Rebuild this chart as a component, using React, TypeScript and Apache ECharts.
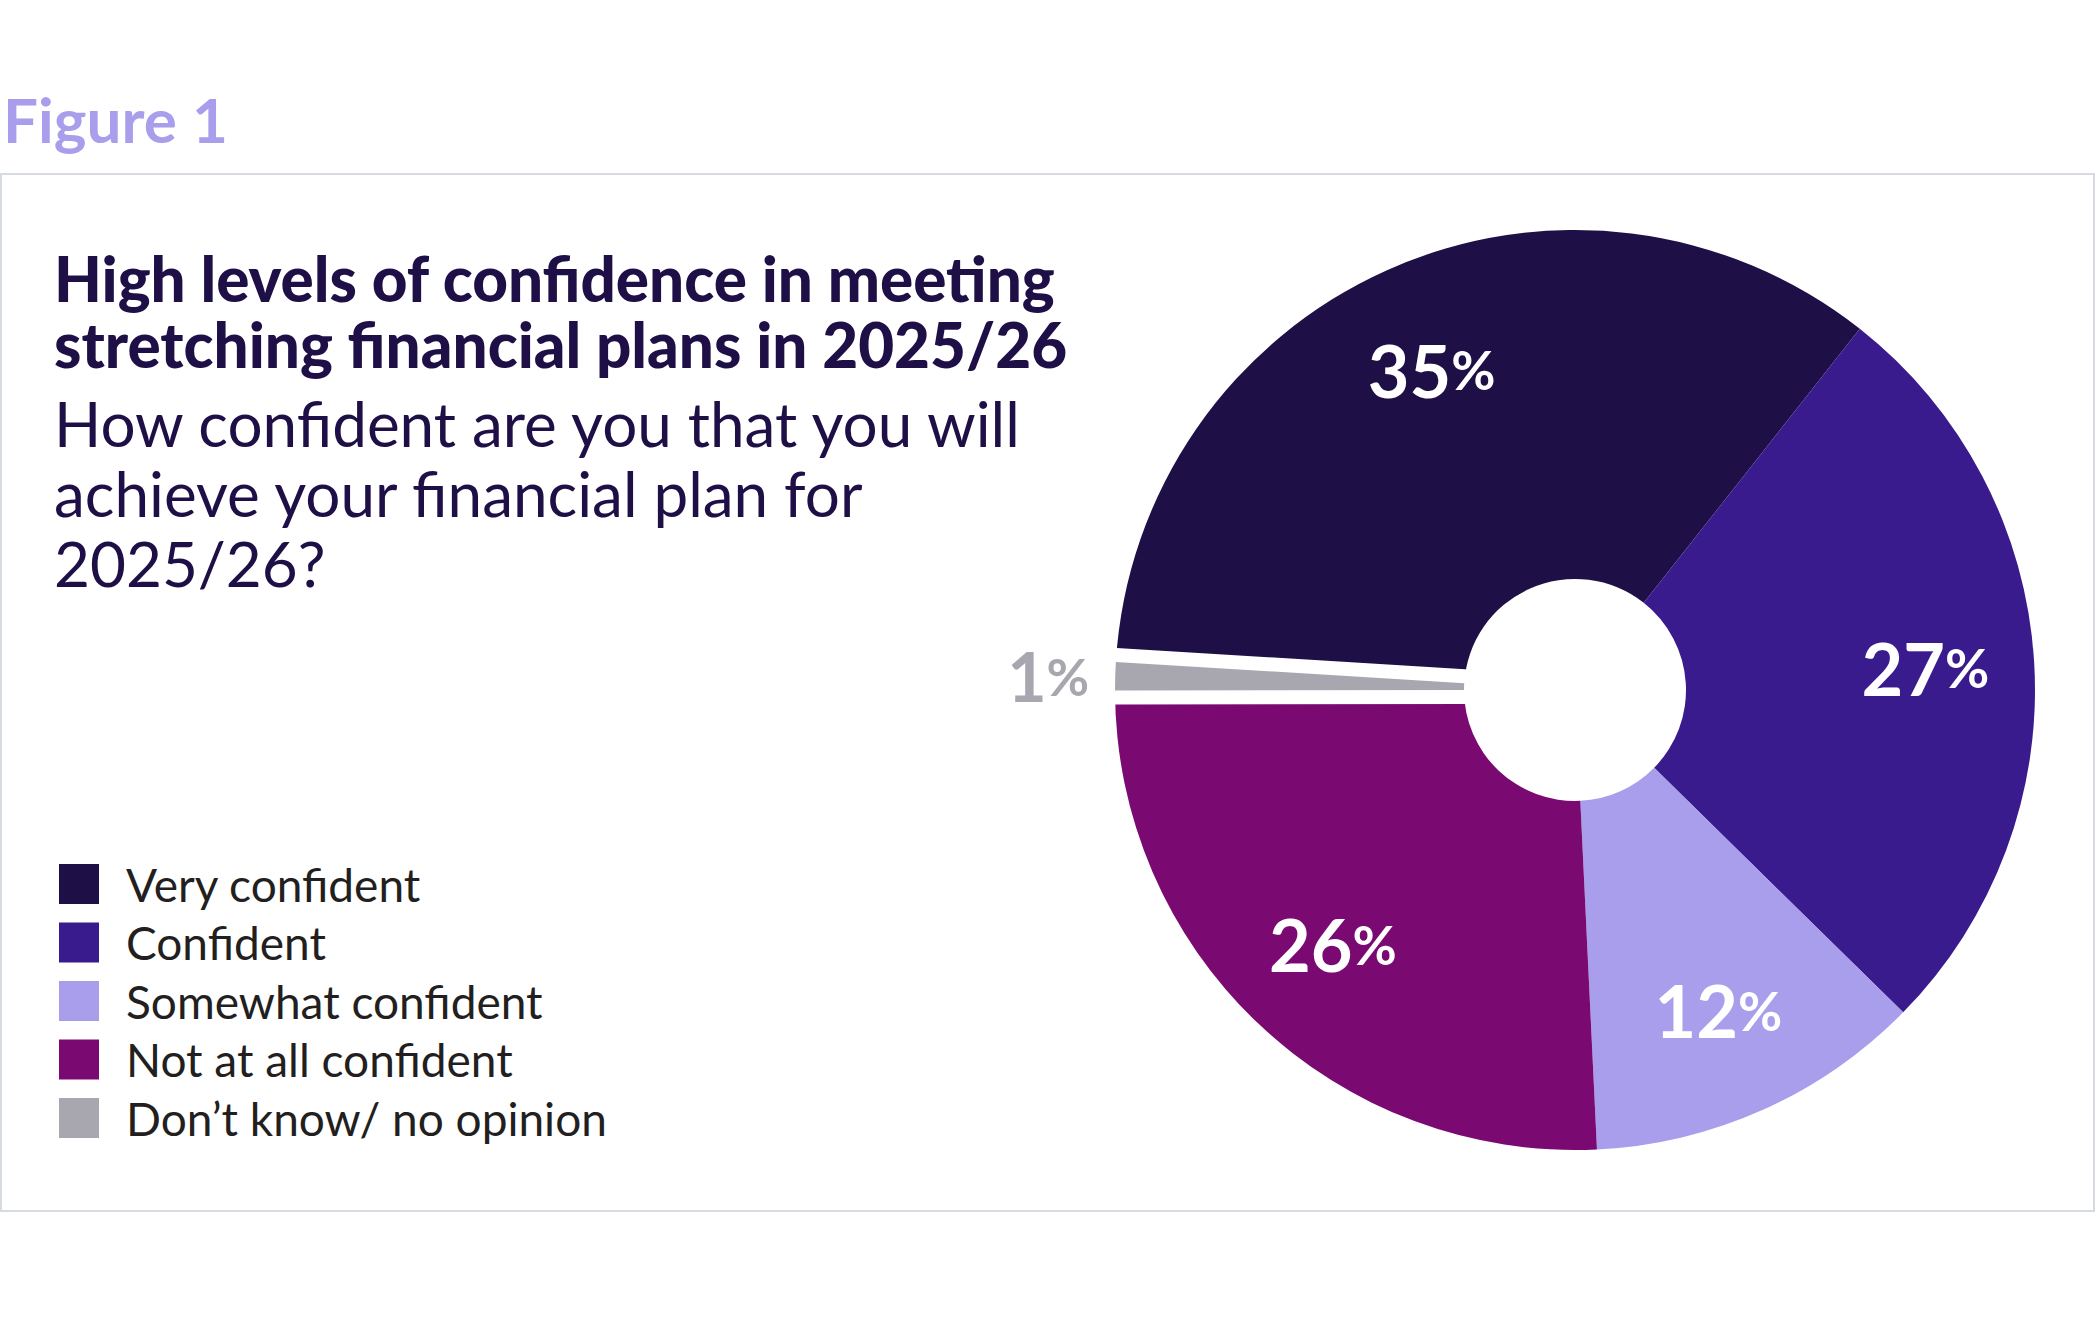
import React, { useEffect, useRef } from "react";
import * as echarts from "echarts";

// data
const categories = [
  "Very confident",
  "Confident",
  "Somewhat confident",
  "Not at all confident",
  "Don’t know/ no opinion",
];
const shares = [35, 27, 12, 26, 1];
const colors = ["#1e0f46", "#3a1b8d", "#a89eec", "#7a0a72", "#a8a7b0"];

const figureLabel = "Figure 1";
const headline = [
  "High levels of confidence in meeting",
  "stretching financial plans in 2025/26",
];
const question = [
  "How confident are you that you will",
  "achieve your financial plan for",
  "2025/26?",
];

const FONT = "Lato, 'Open Sans', sans-serif";
const NAVY = "#1e0f46";
const GREY_IDX = categories.length - 1; // the small slice set apart with a white gap

const App: React.FC = () => {
  const chartRef = useRef<HTMLDivElement>(null);

  useEffect(() => {
    document.body.style.margin = "0";
    if (!chartRef.current) return undefined;
    const chart = echarts.init(chartRef.current, undefined, { renderer: "svg" });

    const center = [1575, 690];
    const startAngle = 176.5;
    const base = {
      type: "pie" as const,
      center,
      startAngle,
      clockwise: true,
      silent: true,
      avoidLabelOverlap: false,
      label: { show: false },
      labelLine: { show: false },
    };
    const clear = "rgba(0,0,0,0)";

    const options: echarts.EChartsOption = {
      animation: false,
      backgroundColor: "#ffffff",
      title: [
        {
          text: figureLabel,
          left: 3,
          top: 86,
          padding: 0,
          textStyle: {
            fontFamily: FONT,
            fontSize: 62,
            fontWeight: "bold",
            color: "#a99eec",
            lineHeight: 66,
          },
        },
        {
          text: headline.join("\n"),
          left: 54,
          top: 245,
          padding: 0,
          textStyle: {
            fontFamily: FONT,
            fontSize: 62,
            fontWeight: 900,
            color: NAVY,
            lineHeight: 66,
          },
        },
        {
          text: question.join("\n"),
          left: 54,
          top: 388,
          padding: 0,
          textStyle: {
            fontFamily: FONT,
            fontSize: 62,
            fontWeight: "normal",
            color: NAVY,
            lineHeight: 70,
          },
        },
      ],
      legend: {
        orient: "vertical",
        left: 59,
        top: 861,
        padding: 0,
        itemWidth: 40,
        itemHeight: 40,
        itemGap: 12.5,
        icon: "rect",
        selectedMode: false,
        data: categories,
        itemStyle: { borderWidth: 0 },
        textStyle: {
          fontFamily: FONT,
          fontSize: 46,
          lineHeight: 34,
          color: "#231f20",
          padding: [6, 0, 0, 22],
        },
      },
      graphic: [
        {
          type: "rect",
          z: -10,
          shape: { x: 1, y: 174, width: 2093, height: 1037 },
          style: { fill: "none", stroke: "#d6dae1", lineWidth: 2 },
        },
      ],
      series: [
        // the coloured ring
        {
          ...base,
          name: "main",
          radius: [111, 460],
          data: categories.map((name, i) => ({
            name,
            value: shares[i],
            itemStyle: { color: colors[i] },
          })),
        },
        // white gap around the small slice
        {
          ...base,
          name: "gap",
          radius: [111, 460],
          data: categories.map((name, i) => ({
            name,
            value: shares[i],
            itemStyle:
              i === GREY_IDX
                ? { color: clear, borderColor: "#ffffff", borderWidth: 28, borderJoin: "round" }
                : { color: clear, borderWidth: 0 },
          })),
        },
        // small slice painted again on top of the gap
        {
          ...base,
          name: "fill",
          radius: [111, 460],
          data: categories.map((name, i) => ({
            name,
            value: shares[i],
            itemStyle: { color: i === GREY_IDX ? colors[i] : clear, borderWidth: 0 },
          })),
        },
        // percentage labels
        {
          ...base,
          name: "labels",
          radius: [236, 460],
          label: {
            show: true,
            position: "inside",
            formatter: (p: any) =>
              p.dataIndex === GREY_IDX ? `{g|${p.value}}{gp|%}` : `{n|${p.value}}{p|%}`,
            rich: {
              n: { fontFamily: FONT, fontSize: 72, fontWeight: "bold", color: "#ffffff" },
              p: { fontFamily: FONT, fontSize: 54, fontWeight: "bold", color: "#ffffff" },
              g: { fontFamily: FONT, fontSize: 68, fontWeight: "bold", color: "#a8a7b0" },
              gp: { fontFamily: FONT, fontSize: 52, fontWeight: "bold", color: "#a8a7b0" },
            },
          },
          data: categories.map((name, i) => ({
            name,
            value: shares[i],
            itemStyle: { color: clear, borderWidth: 0 },
            ...(i === GREY_IDX
              ? {
                  label: { position: "outside", distanceToLabelLine: 5 },
                  labelLine: { show: false, length: 10, length2: 11 },
                }
              : {}),
          })),
        },
      ],
    };

    chart.setOption(options);
    return () => {
      chart.dispose();
    };
  }, []);

  return <div ref={chartRef} style={{ width: "2097px", height: "1318px" }} />;
};

export default App;
